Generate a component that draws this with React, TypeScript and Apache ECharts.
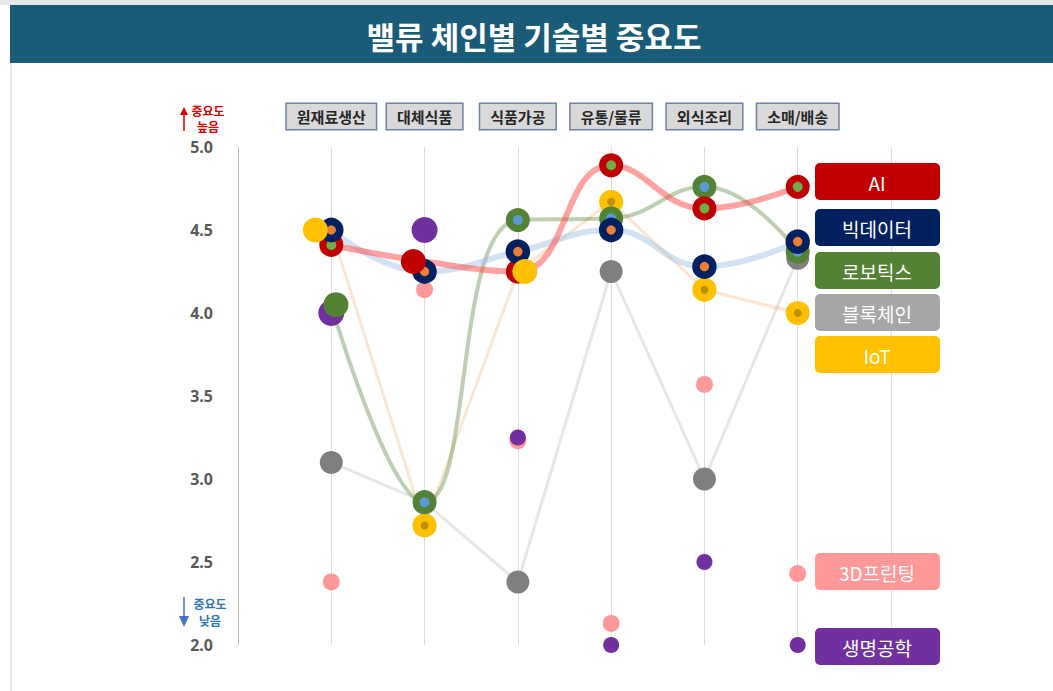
import React, { useEffect, useRef } from 'react';
import * as echarts from 'echarts';

const categories = ['원재료생산', '대체식품', '식품가공', '유통/물류', '외식조리', '소매/배송'];
const aiValues = [4.41, 4.31, 4.25, 4.89, 4.63, 4.76];
const bigDataValues = [4.5, 4.25, 4.37, 4.5, 4.28, 4.43];
const roboticsValues = [4.05, 2.86, 4.56, 4.57, 4.76, 4.37];
const blockchainValues = [3.1, 2.86, 2.38, 4.25, 3.0, 4.33];
const iotValues = [4.5, 2.72, 4.25, 4.67, 4.14, 4.0];
const printingValues = [2.38, 4.14, 3.23, 2.13, 3.57, 2.43];
const bioValues = [4.0, 4.5, 3.25, 2.0, 2.5, 2.0];
// marker x offsets (in category units) as placed in the original
const aiMarkerShift = [0, -0.12, 0, 0, 0, 0];
const iotMarkerShift = [-0.17, 0, 0.075, 0, 0, 0];
const roboticsMarkerShift = [0.05, 0, 0, 0, 0, 0];
const noShift = [0, 0, 0, 0, 0, 0];
const legendNames = ['AI', '빅데이터', '로보틱스', '블록체인', 'IoT', '3D프린팅', '생명공학'];
const legendColors = ['#c00000', '#002060', '#548235', '#a6a6a6', '#ffc000', '#ff9999', '#7030a0'];

const KR = '"Noto Sans CJK KR", "Noto Sans", sans-serif';

type Ring = {
  name: string; values: number[]; shift: number[]; outer: string; inner: string;
  size: number; border: number;
};

const rings: Ring[] = [
  { name: 'IoT', values: iotValues, shift: iotMarkerShift, outer: '#ffc000', inner: '#bf9000', size: 16, border: 8 },
  { name: '로보틱스', values: roboticsValues, shift: roboticsMarkerShift, outer: '#548235', inner: '#5b9bd5', size: 17, border: 7 },
  { name: 'AI', values: aiValues, shift: aiMarkerShift, outer: '#c00000', inner: '#70ad47', size: 17, border: 7 },
  { name: '빅데이터', values: bigDataValues, shift: noShift, outer: '#002060', inner: '#ed7d31', size: 17, border: 7.5 },
];

function lineSeries(name: string, values: number[], color: string, width: number, smooth: number | boolean) {
  return {
    type: 'line', name: name + '-line', silent: true, z: 2,
    data: values.map((v, i) => [i + 1, v]),
    smooth, showSymbol: false, symbol: 'none',
    lineStyle: { color, width, cap: 'round', join: 'round' },
  };
}

export default function App() {
  const ref = useRef<HTMLDivElement>(null);
  useEffect(() => {
    if (!ref.current) return;
    const chart = echarts.init(ref.current, undefined, { renderer: 'svg' });

    const series: any[] = [
      lineSeries('블록체인', blockchainValues, '#e7e7e7', 3, false),
      lineSeries('IoT', iotValues, 'rgba(247,150,70,0.25)', 3, false),
      lineSeries('로보틱스', roboticsValues, 'rgba(84,130,53,0.38)', 4, 0.45),
      lineSeries('빅데이터', bigDataValues, 'rgba(157,190,228,0.45)', 6, 0.45),
      lineSeries('AI', aiValues, 'rgba(255,70,70,0.5)', 6, 0.45),
      {
        type: 'scatter', name: '3D프린팅', silent: true, z: 3,
        data: printingValues.map((v, i) => [i + 1, v]),
        symbolSize: 17, itemStyle: { color: '#ff9999', opacity: 1 },
      },
      {
        type: 'scatter', name: '생명공학', silent: true, z: 3,
        data: bioValues.map((v, i) => [i + 1, v]),
        symbolSize: (d: number[]) => (d[1] >= 4 ? 26 : 16),
        itemStyle: { color: '#7030a0', opacity: 1 },
      },
      {
        type: 'scatter', name: '블록체인', silent: true, z: 3,
        data: blockchainValues.map((v, i) => [i + 1, v]),
        symbolSize: 23, itemStyle: { color: '#7f7f7f', opacity: 1 },
      },
    ];
    rings.forEach((r) => {
      series.push({
        type: 'scatter', name: r.name, silent: true, z: 3,
        data: r.values.map((v, i) => [i + 1, v]).filter((_, i) => r.shift[i] === 0),
        symbolSize: r.size,
        itemStyle: { color: r.inner, borderColor: r.outer, borderWidth: r.border, opacity: 1 },
      });
    });
    const shifted: any[] = [];
    rings.forEach((r) => {
      r.values.forEach((v, i) => {
        if (r.shift[i] !== 0) shifted.push({ value: [i + 1 + r.shift[i], v], itemStyle: { color: r.outer } });
      });
    });
    series.push({
      type: 'scatter', name: 'shifted', silent: true, z: 3,
      data: shifted, symbolSize: 25, itemStyle: { opacity: 1 },
    });

    const legendTops = [163, 209, 252, 294, 336, 553, 628];
    const legendEls: any[] = legendNames.map((n, i) => ({
      type: 'group', z: 20,
      children: [
        { type: 'rect', z: 20, shape: { x: 815, y: legendTops[i], width: 125, height: 37, r: 5 }, style: { fill: legendColors[i] } },
        {
          type: 'text', z: 21, style: {
            x: 877, y: legendTops[i] + 19, text: n, fill: '#ffffff', font: `19px ${KR}`,
            textAlign: 'center', textVerticalAlign: 'middle',
          },
        },
      ],
    }));

    const option: any = {
      animation: false,
      backgroundColor: '#ffffff',
      grid: { left: 238, right: 162, top: 147, bottom: 46, containLabel: false },
      xAxis: [
        {
          type: 'value', min: 0, max: 7, interval: 1,
          axisLine: { show: false }, axisTick: { show: false }, axisLabel: { show: false },
          splitLine: { show: true, lineStyle: { color: '#dcdcdc', width: 1 } },
        },
        {
          type: 'category', position: 'top', boundaryGap: false,
          data: ['', ...categories, ''],
          axisLine: { show: false }, axisTick: { show: false }, splitLine: { show: false },
          axisLabel: {
            interval: (idx: number) => idx > 0 && idx <= categories.length,
            margin: 18, color: '#262626', fontSize: 15, fontWeight: 'bold', fontFamily: KR,
            backgroundColor: '#d9d9d9', borderColor: '#6f80a6', borderWidth: 1.5,
            padding: [3, 10], lineHeight: 19,
          },
        },
      ],
      yAxis: {
        type: 'value', min: 2, max: 5, interval: 0.5,
        axisLine: { show: true, lineStyle: { color: '#bfbfbf', width: 1 } },
        axisTick: { show: false }, splitLine: { show: false },
        axisLabel: {
          formatter: (v: number) => v.toFixed(1), color: '#595959', fontSize: 16,
          fontWeight: 'bold', fontFamily: '"Noto Sans", sans-serif', margin: 25,
        },
      },
      graphic: [
        { type: 'rect', z: 10, shape: { x: 0, y: 0, width: 1053, height: 5 }, style: { fill: '#e8e8e8' } },
        { type: 'rect', z: 10, shape: { x: 10, y: 5, width: 1043, height: 58 }, style: { fill: '#1a5c78' } },
        { type: 'rect', z: 10, shape: { x: 10, y: 63, width: 2, height: 628 }, style: { fill: '#e8e8e8' } },
        {
          type: 'text', z: 11, style: {
            x: 534, y: 35, text: '밸류 체인별 기술별 중요도', fill: '#ffffff',
            font: `bold 31px ${KR}`, textAlign: 'center', textVerticalAlign: 'middle',
          },
        },
        // high importance marker
        { type: 'line', z: 11, shape: { x1: 184, y1: 131, x2: 184, y2: 113 }, style: { stroke: '#e00000', lineWidth: 1.5 } },
        { type: 'polygon', z: 11, shape: { points: [[180, 115], [188, 115], [184, 107]] }, style: { fill: '#e00000' } },
        {
          type: 'text', z: 11, style: {
            x: 208, y: 110, text: '중요도', fill: '#e00000', font: `bold 12px ${KR}`,
            textAlign: 'center', textVerticalAlign: 'middle',
          },
        },
        {
          type: 'text', z: 11, style: {
            x: 208, y: 126, text: '높음', fill: '#e00000', font: `bold 12px ${KR}`,
            textAlign: 'center', textVerticalAlign: 'middle',
          },
        },
        // low importance marker
        { type: 'line', z: 11, shape: { x1: 184, y1: 597, x2: 184, y2: 618 }, style: { stroke: '#4472c4', lineWidth: 1.5 } },
        { type: 'polygon', z: 11, shape: { points: [[179, 616], [189, 616], [184, 627]] }, style: { fill: '#4472c4' } },
        {
          type: 'text', z: 11, style: {
            x: 210, y: 603, text: '중요도', fill: '#2e75b6', font: `bold 12px ${KR}`,
            textAlign: 'center', textVerticalAlign: 'middle',
          },
        },
        {
          type: 'text', z: 11, style: {
            x: 210, y: 620, text: '낮음', fill: '#2e75b6', font: `bold 12px ${KR}`,
            textAlign: 'center', textVerticalAlign: 'middle',
          },
        },
        ...legendEls,
      ],
      series,
    };
    chart.setOption(option);
    return () => chart.dispose();
  }, []);

  return (
    <div
      ref={ref}
      style={{ position: 'fixed', left: 0, top: 0, width: 1053, height: 691, background: '#ffffff' }}
    />
  );
}
